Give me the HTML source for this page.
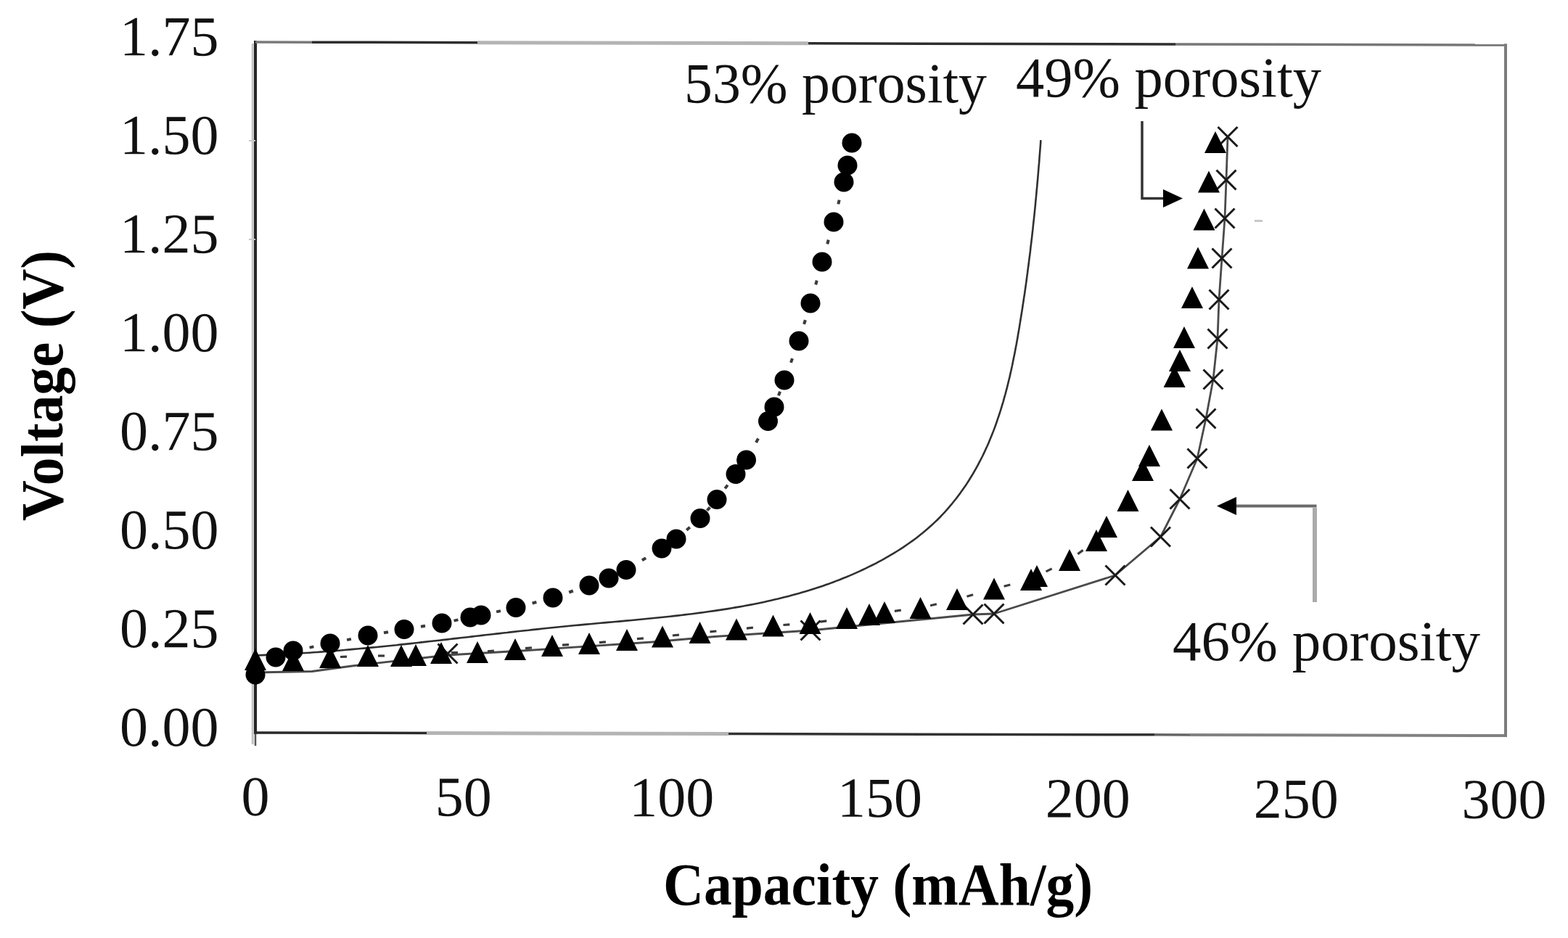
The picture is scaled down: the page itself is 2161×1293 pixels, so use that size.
<!DOCTYPE html>
<html><head><meta charset="utf-8"><title>Voltage vs Capacity</title>
<style>html,body{margin:0;padding:0;background:#fff;} svg{display:block;}</style></head>
<body>
<svg width="2161" height="1293" viewBox="0 0 2161 1293" font-family='"Liberation Serif", "Times New Roman", serif'>
<rect width="2161" height="1293" fill="#fff"/>

<g transform="matrix(1,0.00232,0,1,0,-0.817)">
<line x1="348.2" y1="60.0" x2="348.2" y2="1026.0" stroke="#c4c4c4" stroke-width="3"/>
<line x1="352.0" y1="56.0" x2="352.0" y2="1012.0" stroke="#262626" stroke-width="4"/>
<line x1="352.0" y1="1010.0" x2="352.0" y2="1028.0" stroke="#555" stroke-width="2.5"/>
<line x1="350.0" y1="1010.0" x2="588" y2="1010.0" stroke="#2a2a2a" stroke-width="3.5"/>
<line x1="588" y1="1010.0" x2="1004" y2="1010.0" stroke="#b4b4b4" stroke-width="5"/>
<line x1="1004" y1="1010.0" x2="1591" y2="1010.0" stroke="#333" stroke-width="3.5"/>
<line x1="1591" y1="1010.0" x2="1640" y2="1010.0" stroke="#666" stroke-width="3.5"/>
<line x1="1640" y1="1010.0" x2="2077.0" y2="1010.0" stroke="#828282" stroke-width="4"/>
<line x1="352.0" y1="58.0" x2="430" y2="58.0" stroke="#7a7a7a" stroke-width="3.5"/>
<line x1="430" y1="58.0" x2="658" y2="58.0" stroke="#2e2e2e" stroke-width="3.5"/>
<line x1="658" y1="58.0" x2="1114" y2="58.0" stroke="#b4b4b4" stroke-width="5"/>
<line x1="1114" y1="58.0" x2="1620" y2="58.0" stroke="#2e2e2e" stroke-width="3.5"/>
<line x1="1620" y1="58.0" x2="2077.0" y2="58.0" stroke="#777" stroke-width="3.5"/>
<line x1="2075.0" y1="56.3" x2="2075.0" y2="1012.0" stroke="#7c7c7c" stroke-width="4"/>
<text x="301.5" y="1028.6" font-size="78" text-anchor="end" fill="#111">0.00</text>
<text x="301.5" y="892.6" font-size="78" text-anchor="end" fill="#111">0.25</text>
<text x="301.5" y="756.6" font-size="78" text-anchor="end" fill="#111">0.50</text>
<text x="301.5" y="620.6" font-size="78" text-anchor="end" fill="#111">0.75</text>
<text x="301.5" y="484.6" font-size="78" text-anchor="end" fill="#111">1.00</text>
<line x1="343.0" y1="330.0" x2="352.0" y2="330.0" stroke="#c8c8c8" stroke-width="2"/>
<text x="301.5" y="348.6" font-size="78" text-anchor="end" fill="#111">1.25</text>
<line x1="343.0" y1="194.0" x2="352.0" y2="194.0" stroke="#c8c8c8" stroke-width="2"/>
<text x="301.5" y="212.6" font-size="78" text-anchor="end" fill="#111">1.50</text>
<text x="301.5" y="76.6" font-size="78" text-anchor="end" fill="#111">1.75</text>
<text x="352.0" y="1124" font-size="78" text-anchor="middle" fill="#111">0</text>
<text x="638.8" y="1124" font-size="78" text-anchor="middle" fill="#111">50</text>
<text x="925.7" y="1124" font-size="78" text-anchor="middle" fill="#111">100</text>
<text x="1212.5" y="1124" font-size="78" text-anchor="middle" fill="#111">150</text>
<text x="1499.3" y="1124" font-size="78" text-anchor="middle" fill="#111">200</text>
<text x="1786.2" y="1124" font-size="78" text-anchor="middle" fill="#111">250</text>
<text x="2073.0" y="1124" font-size="78" text-anchor="middle" fill="#111">300</text>
</g>
<text x="914" y="1247" font-size="83" font-weight="bold" textLength="592" lengthAdjust="spacingAndGlyphs" fill="#000">Capacity (mAh/g)</text>
<text transform="translate(86,718) rotate(-90)" font-size="83" font-weight="bold" textLength="373" lengthAdjust="spacingAndGlyphs" fill="#000">Voltage (V)</text>
<text x="943" y="141" font-size="78" textLength="417" lengthAdjust="spacingAndGlyphs" fill="#111">53% porosity</text>
<text x="1400" y="133" font-size="78" textLength="421" lengthAdjust="spacingAndGlyphs" fill="#111">49% porosity</text>
<text x="1616" y="910" font-size="78" textLength="424" lengthAdjust="spacingAndGlyphs" fill="#111">46% porosity</text>
<polyline points="1574,167 1574,273.5 1606,273.5" fill="none" stroke="#333" stroke-width="3.5"/>
<polygon points="1603,261 1630,273.5 1603,286" fill="#000"/>
<line x1="1729" y1="304.5" x2="1740" y2="304.5" stroke="#c8c8c8" stroke-width="3"/>
<line x1="1812" y1="830" x2="1812" y2="700" stroke="#ababab" stroke-width="6"/>
<polyline points="1814.5,697.4 1700,697.4" fill="none" stroke="#6a6a6a" stroke-width="4"/>
<polygon points="1704,685 1677,697.4 1704,710" fill="#000"/>
<path d="M351.3,903.4 L356.4,903.2 L361.5,903.1 L366.6,902.9 L371.7,902.7 L376.8,902.5 L381.9,902.2 L386.9,902.0 L392.0,901.7 L397.0,901.5 L402.1,901.2 L407.1,900.9 L412.2,900.6 L417.2,900.3 L422.2,900.0 L427.2,899.7 L432.2,899.3 L437.3,899.0 L442.3,898.6 L447.3,898.2 L452.2,897.8 L457.2,897.5 L462.2,897.1 L467.2,896.7 L472.2,896.2 L477.1,895.8 L482.1,895.4 L487.1,894.9 L492.0,894.5 L497.0,894.0 L501.9,893.6 L506.9,893.1 L511.8,892.6 L516.8,892.2 L521.7,891.7 L526.6,891.2 L531.6,890.7 L536.5,890.2 L541.4,889.7 L546.4,889.2 L551.3,888.6 L556.2,888.1 L561.1,887.6 L566.0,887.1 L571.0,886.5 L575.9,886.0 L580.8,885.4 L585.7,884.9 L590.6,884.3 L595.5,883.8 L600.4,883.2 L605.3,882.7 L610.3,882.1 L615.2,881.6 L620.1,881.0 L625.0,880.4 L629.9,879.9 L634.8,879.3 L639.7,878.7 L644.6,878.2 L649.5,877.6 L654.5,877.0 L659.4,876.5 L664.3,875.9 L669.2,875.3 L674.1,874.8 L679.0,874.2 L684.0,873.6 L688.9,873.1 L693.8,872.5 L698.8,872.0 L703.7,871.4 L708.6,870.9 L713.6,870.3 L718.5,869.8 L723.4,869.2 L728.4,868.7 L733.3,868.1 L738.3,867.6 L743.2,867.1 L748.2,866.5 L753.1,866.0 L758.1,865.5 L763.1,865.0 L768.1,864.5 L773.0,864.0 L778.0,863.5 L783.0,863.0 L788.0,862.5 L793.0,862.0 L798.0,861.6 L803.0,861.1 L808.0,860.6 L813.0,860.2 L818.0,859.7 L823.1,859.3 L828.1,858.8 L833.1,858.4 L838.1,857.9 L843.2,857.5 L848.2,857.0 L853.2,856.6 L858.3,856.1 L863.3,855.6 L868.3,855.2 L873.4,854.7 L878.4,854.2 L883.4,853.8 L888.5,853.3 L893.5,852.8 L898.5,852.3 L903.6,851.8 L908.6,851.3 L913.6,850.7 L918.7,850.2 L923.7,849.7 L928.7,849.1 L933.7,848.6 L938.8,848.0 L943.8,847.4 L948.8,846.8 L953.8,846.2 L958.8,845.5 L963.8,844.9 L968.8,844.2 L973.8,843.5 L978.7,842.8 L983.7,842.1 L988.7,841.4 L993.7,840.6 L998.6,839.9 L1003.6,839.1 L1008.5,838.3 L1013.5,837.4 L1018.4,836.6 L1023.3,835.7 L1028.2,834.8 L1033.1,833.9 L1038.0,832.9 L1042.9,831.9 L1047.8,830.9 L1052.7,829.9 L1057.6,828.8 L1062.4,827.7 L1067.2,826.6 L1072.1,825.5 L1076.9,824.3 L1081.7,823.1 L1086.5,821.9 L1091.3,820.6 L1096.1,819.3 L1100.9,818.0 L1105.6,816.6 L1110.3,815.2 L1115.1,813.8 L1119.8,812.3 L1124.5,810.8 L1129.2,809.2 L1133.9,807.7 L1138.5,806.0 L1143.2,804.4 L1147.8,802.7 L1152.4,800.9 L1157.0,799.2 L1161.6,797.3 L1166.2,795.5 L1170.7,793.6 L1175.3,791.6 L1179.8,789.6 L1184.3,787.6 L1188.8,785.5 L1193.3,783.4 L1197.7,781.2 L1202.2,779.0 L1206.6,776.8 L1211.0,774.4 L1215.4,772.1 L1219.7,769.7 L1224.0,767.2 L1228.3,764.7 L1232.6,762.1 L1236.8,759.5 L1241.0,756.8 L1245.2,754.1 L1249.3,751.3 L1253.3,748.5 L1257.4,745.6 L1261.4,742.7 L1265.3,739.7 L1269.2,736.6 L1273.0,733.5 L1276.8,730.3 L1280.5,727.1 L1284.2,723.8 L1287.8,720.4 L1291.4,717.0 L1294.9,713.5 L1298.3,709.9 L1301.7,706.3 L1305.0,702.7 L1308.2,698.9 L1311.4,695.2 L1314.5,691.3 L1317.6,687.5 L1320.6,683.5 L1323.5,679.6 L1326.4,675.5 L1329.2,671.5 L1332.0,667.4 L1334.7,663.2 L1337.3,659.0 L1339.9,654.8 L1342.4,650.5 L1344.9,646.2 L1347.3,641.8 L1349.6,637.4 L1351.9,633.0 L1354.2,628.5 L1356.3,624.1 L1358.4,619.5 L1360.5,615.0 L1362.5,610.4 L1364.4,605.8 L1366.3,601.2 L1368.2,596.6 L1370.0,591.9 L1371.7,587.2 L1373.4,582.5 L1375.0,577.7 L1376.6,573.0 L1378.2,568.2 L1379.7,563.4 L1381.1,558.6 L1382.6,553.8 L1383.9,548.9 L1385.3,544.1 L1386.6,539.2 L1387.9,534.3 L1389.1,529.4 L1390.3,524.5 L1391.5,519.6 L1392.6,514.6 L1393.7,509.7 L1394.8,504.8 L1395.8,499.8 L1396.8,494.8 L1397.8,489.9 L1398.8,484.9 L1399.7,479.9 L1400.7,475.0 L1401.6,470.0 L1402.5,465.0 L1403.3,460.0 L1404.2,455.0 L1405.0,450.1 L1405.8,445.1 L1406.6,440.1 L1407.4,435.2 L1408.2,430.2 L1409.0,425.2 L1409.7,420.3 L1410.5,415.3 L1411.2,410.4 L1412.0,405.5 L1412.7,400.5 L1413.4,395.6 L1414.1,390.6 L1414.8,385.7 L1415.4,380.8 L1416.1,375.9 L1416.7,370.9 L1417.4,366.0 L1418.0,361.1 L1418.6,356.2 L1419.3,351.3 L1419.9,346.4 L1420.4,341.4 L1421.0,336.5 L1421.6,331.6 L1422.2,326.7 L1422.7,321.8 L1423.3,316.9 L1423.8,311.9 L1424.3,307.0 L1424.9,302.1 L1425.4,297.2 L1425.9,292.3 L1426.4,287.3 L1426.9,282.4 L1427.3,277.5 L1427.8,272.6 L1428.3,267.6 L1428.7,262.7 L1429.2,257.8 L1429.6,252.8 L1430.1,247.9 L1430.5,242.9 L1430.9,238.0 L1431.3,233.0 L1431.7,228.1 L1432.2,223.1 L1432.5,218.1 L1432.9,213.2 L1433.3,208.2 L1433.7,203.2 L1434.1,198.2 L1434.4,193.2" fill="none" stroke="#303030" stroke-width="2.6" stroke-linejoin="round"/>
<path d="M352.0,927.0 L430.0,925.5 L485.0,918.0 L617.0,903.0 L720.0,897.0 L899.0,885.0 L985.0,877.5 L1117.0,869.0 L1341.0,847.0 L1370.0,846.0 L1537.0,793.0 L1599.5,740.0 L1626.0,688.0 L1650.0,632.0 L1662.0,577.0 L1672.0,523.0 L1678.0,467.0 L1680.0,413.0 L1684.0,356.0 L1688.0,301.0 L1690.0,248.0 L1692.0,188.5" fill="none" stroke="#4a4a4a" stroke-width="2.8" stroke-linejoin="round"/>
<line x1="469.0" y1="905.5" x2="478.0" y2="905.1" stroke="#3a3a3a" stroke-width="3.2"/>
<line x1="521.0" y1="904.0" x2="530.0" y2="904.0" stroke="#3a3a3a" stroke-width="3.2"/>
<line x1="622.0" y1="899.7" x2="631.0" y2="899.5" stroke="#3a3a3a" stroke-width="3.2"/>
<line x1="672.0" y1="897.9" x2="680.9" y2="897.2" stroke="#3a3a3a" stroke-width="3.2"/>
<line x1="723.9" y1="893.6" x2="732.9" y2="892.8" stroke="#3a3a3a" stroke-width="3.2"/>
<line x1="775.0" y1="889.2" x2="784.0" y2="888.6" stroke="#3a3a3a" stroke-width="3.2"/>
<line x1="825.9" y1="885.7" x2="834.9" y2="884.8" stroke="#3a3a3a" stroke-width="3.2"/>
<line x1="877.9" y1="880.7" x2="886.9" y2="879.9" stroke="#3a3a3a" stroke-width="3.2"/>
<line x1="926.9" y1="876.0" x2="935.9" y2="875.1" stroke="#3a3a3a" stroke-width="3.2"/>
<line x1="978.4" y1="870.8" x2="987.4" y2="870.0" stroke="#3a3a3a" stroke-width="3.2"/>
<line x1="1028.9" y1="866.1" x2="1037.9" y2="865.2" stroke="#3a3a3a" stroke-width="3.2"/>
<line x1="1079.5" y1="861.5" x2="1088.4" y2="860.9" stroke="#3a3a3a" stroke-width="3.2"/>
<line x1="1130.4" y1="857.1" x2="1139.3" y2="855.8" stroke="#3a3a3a" stroke-width="3.2"/>
<line x1="1232.9" y1="842.3" x2="1241.8" y2="841.2" stroke="#3a3a3a" stroke-width="3.2"/>
<line x1="1282.1" y1="834.8" x2="1290.9" y2="832.7" stroke="#3a3a3a" stroke-width="3.2"/>
<line x1="1332.5" y1="822.2" x2="1341.1" y2="819.7" stroke="#3a3a3a" stroke-width="3.2"/>
<line x1="1383.6" y1="808.2" x2="1392.3" y2="806.0" stroke="#3a3a3a" stroke-width="3.2"/>
<line x1="1441.6" y1="787.9" x2="1449.7" y2="783.9" stroke="#3a3a3a" stroke-width="3.2"/>
<line x1="1485.3" y1="763.7" x2="1492.6" y2="758.4" stroke="#3a3a3a" stroke-width="3.2"/>
<line x1="426.6" y1="892.6" x2="432.4" y2="891.4" stroke="#3a3a3a" stroke-width="4"/>
<line x1="478.1" y1="882.1" x2="483.9" y2="880.9" stroke="#3a3a3a" stroke-width="4"/>
<line x1="529.0" y1="872.3" x2="535.0" y2="871.2" stroke="#3a3a3a" stroke-width="4"/>
<line x1="580.0" y1="863.7" x2="586.0" y2="862.8" stroke="#3a3a3a" stroke-width="4"/>
<line x1="625.6" y1="855.6" x2="631.4" y2="854.4" stroke="#3a3a3a" stroke-width="4"/>
<line x1="684.1" y1="843.4" x2="689.9" y2="842.1" stroke="#3a3a3a" stroke-width="4"/>
<line x1="733.6" y1="831.5" x2="739.4" y2="830.0" stroke="#3a3a3a" stroke-width="4"/>
<line x1="784.2" y1="816.5" x2="789.8" y2="814.5" stroke="#3a3a3a" stroke-width="4"/>
<line x1="884.9" y1="772.3" x2="890.1" y2="769.2" stroke="#3a3a3a" stroke-width="4"/>
<line x1="946.2" y1="730.7" x2="950.8" y2="726.8" stroke="#3a3a3a" stroke-width="4"/>
<line x1="974.5" y1="703.7" x2="978.5" y2="699.3" stroke="#3a3a3a" stroke-width="4"/>
<line x1="999.2" y1="673.4" x2="1002.8" y2="668.6" stroke="#3a3a3a" stroke-width="4"/>
<line x1="1042.0" y1="609.9" x2="1045.0" y2="604.6" stroke="#3a3a3a" stroke-width="4"/>
<line x1="1072.9" y1="545.3" x2="1075.1" y2="539.7" stroke="#3a3a3a" stroke-width="4"/>
<line x1="1090.0" y1="499.8" x2="1092.0" y2="494.2" stroke="#3a3a3a" stroke-width="4"/>
<line x1="1108.1" y1="446.9" x2="1109.9" y2="441.1" stroke="#3a3a3a" stroke-width="4"/>
<line x1="1124.2" y1="392.4" x2="1125.8" y2="386.6" stroke="#3a3a3a" stroke-width="4"/>
<line x1="1140.2" y1="336.4" x2="1141.8" y2="330.6" stroke="#3a3a3a" stroke-width="4"/>
<line x1="1155.3" y1="281.4" x2="1156.7" y2="275.6" stroke="#3a3a3a" stroke-width="4"/>
<path d="M603.5,887.5L630.5,914.5M603.5,914.5L630.5,887.5" stroke="#1a1a1a" stroke-width="3"/>
<path d="M1103.5,855.5L1130.5,882.5M1103.5,882.5L1130.5,855.5" stroke="#1a1a1a" stroke-width="3"/>
<path d="M1327.5,833.5L1354.5,860.5M1327.5,860.5L1354.5,833.5" stroke="#1a1a1a" stroke-width="3"/>
<path d="M1356.5,832.5L1383.5,859.5M1356.5,859.5L1383.5,832.5" stroke="#1a1a1a" stroke-width="3"/>
<path d="M1523.5,779.5L1550.5,806.5M1523.5,806.5L1550.5,779.5" stroke="#1a1a1a" stroke-width="3"/>
<path d="M1586.0,726.5L1613.0,753.5M1586.0,753.5L1613.0,726.5" stroke="#1a1a1a" stroke-width="3"/>
<path d="M1612.5,674.5L1639.5,701.5M1612.5,701.5L1639.5,674.5" stroke="#1a1a1a" stroke-width="3"/>
<path d="M1636.5,618.5L1663.5,645.5M1636.5,645.5L1663.5,618.5" stroke="#1a1a1a" stroke-width="3"/>
<path d="M1648.5,563.5L1675.5,590.5M1648.5,590.5L1675.5,563.5" stroke="#1a1a1a" stroke-width="3"/>
<path d="M1658.5,509.5L1685.5,536.5M1658.5,536.5L1685.5,509.5" stroke="#1a1a1a" stroke-width="3"/>
<path d="M1664.5,453.5L1691.5,480.5M1664.5,480.5L1691.5,453.5" stroke="#1a1a1a" stroke-width="3"/>
<path d="M1666.5,399.5L1693.5,426.5M1666.5,426.5L1693.5,399.5" stroke="#1a1a1a" stroke-width="3"/>
<path d="M1670.5,342.5L1697.5,369.5M1670.5,369.5L1697.5,342.5" stroke="#1a1a1a" stroke-width="3"/>
<path d="M1674.5,287.5L1701.5,314.5M1674.5,314.5L1701.5,287.5" stroke="#1a1a1a" stroke-width="3"/>
<path d="M1676.5,234.5L1703.5,261.5M1676.5,261.5L1703.5,234.5" stroke="#1a1a1a" stroke-width="3"/>
<path d="M1678.5,175.0L1705.5,202.0M1678.5,202.0L1705.5,175.0" stroke="#1a1a1a" stroke-width="3"/>
<polygon points="337.0,924.0 352.0,894.0 367.0,924.0" fill="#000"/>
<polygon points="389.0,925.0 404.0,895.0 419.0,925.0" fill="#000"/>
<polygon points="440.0,921.0 455.0,891.0 470.0,921.0" fill="#000"/>
<polygon points="492.0,919.0 507.0,889.0 522.0,919.0" fill="#000"/>
<polygon points="538.0,919.0 553.0,889.0 568.0,919.0" fill="#000"/>
<polygon points="558.0,918.0 573.0,888.0 588.0,918.0" fill="#000"/>
<polygon points="593.0,915.0 608.0,885.0 623.0,915.0" fill="#000"/>
<polygon points="643.0,914.0 658.0,884.0 673.0,914.0" fill="#000"/>
<polygon points="695.0,910.0 710.0,880.0 725.0,910.0" fill="#000"/>
<polygon points="746.0,905.0 761.0,875.0 776.0,905.0" fill="#000"/>
<polygon points="797.0,902.0 812.0,872.0 827.0,902.0" fill="#000"/>
<polygon points="849.0,897.0 864.0,867.0 879.0,897.0" fill="#000"/>
<polygon points="898.0,892.5 913.0,862.5 928.0,892.5" fill="#000"/>
<polygon points="949.5,887.0 964.5,857.0 979.5,887.0" fill="#000"/>
<polygon points="1000.0,882.5 1015.0,852.5 1030.0,882.5" fill="#000"/>
<polygon points="1050.5,877.5 1065.5,847.5 1080.5,877.5" fill="#000"/>
<polygon points="1101.5,874.0 1116.5,844.0 1131.5,874.0" fill="#000"/>
<polygon points="1152.0,867.0 1167.0,837.0 1182.0,867.0" fill="#000"/>
<polygon points="1183.0,862.0 1198.0,832.0 1213.0,862.0" fill="#000"/>
<polygon points="1204.0,859.0 1219.0,829.0 1234.0,859.0" fill="#000"/>
<polygon points="1253.5,853.0 1268.5,823.0 1283.5,853.0" fill="#000"/>
<polygon points="1304.0,841.0 1319.0,811.0 1334.0,841.0" fill="#000"/>
<polygon points="1355.0,826.5 1370.0,796.5 1385.0,826.5" fill="#000"/>
<polygon points="1406.0,814.0 1421.0,784.0 1436.0,814.0" fill="#000"/>
<polygon points="1414.0,809.0 1429.0,779.0 1444.0,809.0" fill="#000"/>
<polygon points="1459.0,787.0 1474.0,757.0 1489.0,787.0" fill="#000"/>
<polygon points="1496.0,760.0 1511.0,730.0 1526.0,760.0" fill="#000"/>
<polygon points="1510.0,741.0 1525.0,711.0 1540.0,741.0" fill="#000"/>
<polygon points="1539.5,705.0 1554.5,675.0 1569.5,705.0" fill="#000"/>
<polygon points="1560.0,663.0 1575.0,633.0 1590.0,663.0" fill="#000"/>
<polygon points="1569.0,643.0 1584.0,613.0 1599.0,643.0" fill="#000"/>
<polygon points="1586.0,593.6 1601.0,563.6 1616.0,593.6" fill="#000"/>
<polygon points="1603.6,534.0 1618.6,504.0 1633.6,534.0" fill="#000"/>
<polygon points="1611.0,512.0 1626.0,482.0 1641.0,512.0" fill="#000"/>
<polygon points="1617.0,480.0 1632.0,450.0 1647.0,480.0" fill="#000"/>
<polygon points="1628.0,425.0 1643.0,395.0 1658.0,425.0" fill="#000"/>
<polygon points="1636.0,370.6 1651.0,340.6 1666.0,370.6" fill="#000"/>
<polygon points="1644.5,317.4 1659.5,287.4 1674.5,317.4" fill="#000"/>
<polygon points="1651.0,265.4 1666.0,235.4 1681.0,265.4" fill="#000"/>
<polygon points="1660.0,210.9 1675.0,180.9 1690.0,210.9" fill="#000"/>
<circle cx="352" cy="930" r="13.5" fill="#000"/>
<circle cx="380" cy="906" r="13.5" fill="#000"/>
<circle cx="404" cy="897" r="13.5" fill="#000"/>
<circle cx="455" cy="887" r="13.5" fill="#000"/>
<circle cx="507" cy="876" r="13.5" fill="#000"/>
<circle cx="557" cy="867.5" r="13.5" fill="#000"/>
<circle cx="609" cy="859" r="13.5" fill="#000"/>
<circle cx="648" cy="851" r="13.5" fill="#000"/>
<circle cx="663" cy="848" r="13.5" fill="#000"/>
<circle cx="711" cy="837.5" r="13.5" fill="#000"/>
<circle cx="762" cy="824" r="13.5" fill="#000"/>
<circle cx="812" cy="807" r="13.5" fill="#000"/>
<circle cx="839" cy="797" r="13.5" fill="#000"/>
<circle cx="863" cy="785.5" r="13.5" fill="#000"/>
<circle cx="912" cy="756" r="13.5" fill="#000"/>
<circle cx="932" cy="743" r="13.5" fill="#000"/>
<circle cx="965" cy="714.5" r="13.5" fill="#000"/>
<circle cx="988" cy="688.5" r="13.5" fill="#000"/>
<circle cx="1014" cy="653.5" r="13.5" fill="#000"/>
<circle cx="1028.5" cy="634" r="13.5" fill="#000"/>
<circle cx="1058.5" cy="580.5" r="13.5" fill="#000"/>
<circle cx="1067" cy="561" r="13.5" fill="#000"/>
<circle cx="1081" cy="524" r="13.5" fill="#000"/>
<circle cx="1101" cy="470" r="13.5" fill="#000"/>
<circle cx="1117" cy="418" r="13.5" fill="#000"/>
<circle cx="1133" cy="361" r="13.5" fill="#000"/>
<circle cx="1149" cy="306" r="13.5" fill="#000"/>
<circle cx="1163" cy="251" r="13.5" fill="#000"/>
<circle cx="1168" cy="228" r="13.5" fill="#000"/>
<circle cx="1174" cy="197" r="13.5" fill="#000"/>
</svg>
</body></html>
